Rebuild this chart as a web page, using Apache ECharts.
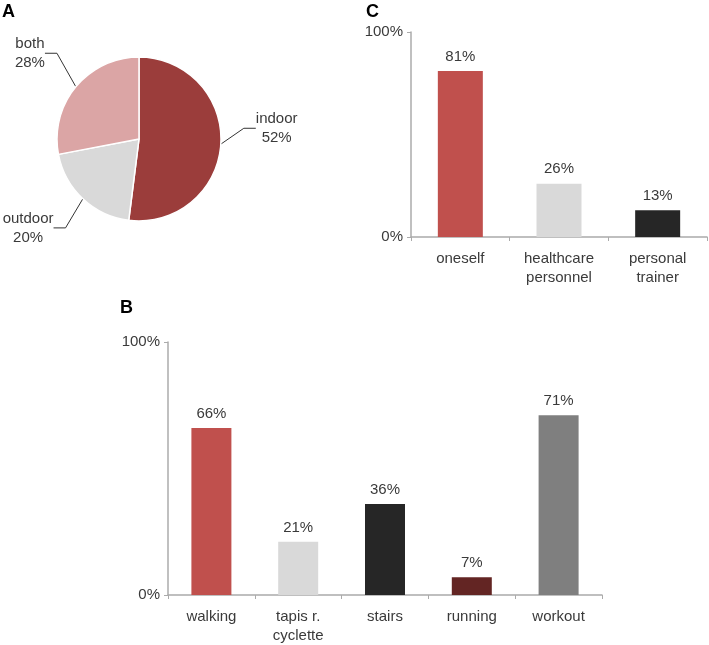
<!DOCTYPE html>
<html><head><meta charset="utf-8">
<script src="https://cdn.jsdelivr.net/npm/echarts@6/dist/echarts.min.js"></script>
<style>html,body{margin:0;padding:0;background:#fff}#c{width:709px;height:645px}</style>
</head><body><div id="c"></div>
<script>
const pieNames = ['indoor', 'outdoor', 'both'];
const pieValues = [52, 20, 28];
const pieColors = ['#9b3d3b', '#d9d9d9', '#dba5a5'];

const cCats = ['oneself', 'healthcare\npersonnel', 'personal\ntrainer'];
const cValues = [81, 26, 13];
const cColors = ['#c0504d', '#d9d9d9', '#262626'];

const bCats = ['walking', 'tapis r.\ncyclette', 'stairs', 'running', 'workout'];
const bValues = [66, 21, 36, 7, 71];
const bColors = ['#c0504d', '#d9d9d9', '#262626', '#632523', '#7f7f7f'];

const yTicks = [0, 100];

const FONT = 'Liberation Sans, Arial, sans-serif';
const TXT = '#3a3a3a';
const AX = '#ababab';
const FS = 15;

const chart = echarts.init(document.getElementById('c'));

function xAxis(gi, cats) {
  return {
    type: 'category', gridIndex: gi, data: cats,
    axisLine: { lineStyle: { color: AX, width: 1.5 } },
    axisTick: { show: true, length: 4, lineStyle: { color: AX } },
    axisLabel: { color: TXT, fontSize: FS, fontFamily: FONT, margin: 12, lineHeight: 19 }
  };
}
function yAxis(gi) {
  return {
    type: 'value', gridIndex: gi, min: yTicks[0], max: yTicks[1], interval: yTicks[1] - yTicks[0],
    axisLine: { show: true, lineStyle: { color: AX, width: 1.5 } },
    axisTick: { show: true, length: 4, lineStyle: { color: AX } },
    splitLine: { show: false },
    axisLabel: { color: TXT, fontSize: FS, fontFamily: FONT, formatter: '{value}%', margin: 8 }
  };
}
function barSeries(gi, vals, colors, width) {
  return {
    type: 'bar', xAxisIndex: gi, yAxisIndex: gi, barWidth: width,
    data: vals.map((v, i) => ({ value: v, itemStyle: { color: colors[i] } })),
    label: { show: true, position: 'top', distance: 7, formatter: '{c}%', color: TXT, fontSize: FS, fontFamily: FONT }
  };
}

// vertical nudges of the pie labels (layout only)
const pieLabelDy = [-17, 16, -22];

const titleStyle = { fontSize: 18, fontWeight: 'bold', color: '#000', fontFamily: FONT };

chart.setOption({
  animation: false,
  textStyle: { fontFamily: FONT },
  title: [
    { text: 'A', left: 2, top: 3, padding: 0, textStyle: titleStyle },
    { text: 'C', left: 366, top: 3, padding: 0, textStyle: titleStyle },
    { text: 'B', left: 120, top: 299, padding: 0, textStyle: titleStyle }
  ],
  grid: [
    { left: 411, top: 32, right: 2, bottom: 408 },
    { left: 168, top: 342, right: 107, bottom: 49 }
  ],
  xAxis: [xAxis(0, cCats), xAxis(1, bCats)],
  yAxis: [yAxis(0), yAxis(1)],
  series: [
    barSeries(0, cValues, cColors, 45),
    barSeries(1, bValues, bColors, 40),
    {
      type: 'pie', center: [139, 139], radius: [0, 82], startAngle: 90, clockwise: true,
      itemStyle: { borderColor: '#fff', borderWidth: 1.5 },
      label: { show: true, formatter: '{b}\n{c}%', color: TXT, fontSize: FS, fontFamily: FONT, lineHeight: 19, overflow: 'none', bleedMargin: 0 },
      labelLine: { length: 18, length2: 12, lineStyle: { color: '#333', width: 1 } },
      labelLayout: function (p) {
        const r = p.labelRect;
        return { x: r.x + r.width / 2, y: r.y + r.height / 2 + pieLabelDy[p.dataIndex], align: 'center', verticalAlign: 'middle' };
      },
      data: pieNames.map((n, i) => ({ name: n, value: pieValues[i], itemStyle: { color: pieColors[i] } }))
    }
  ]
});
</script></body></html>
